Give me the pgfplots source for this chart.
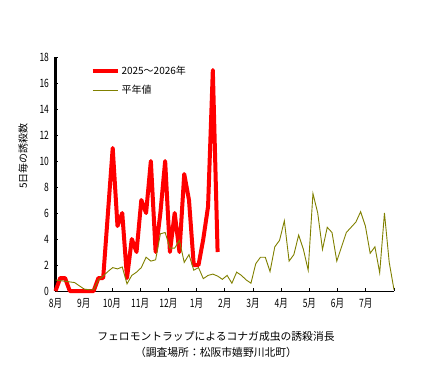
\documentclass[border=0pt]{standalone}
\usepackage{fontspec}
\setmainfont{Noto Sans CJK JP}
\newfontfamily\narrowfont[FakeStretch=0.74]{Noto Sans CJK JP}
\usepackage{pgfplots}
\pgfplotsset{compat=1.18}
\usepackage{pgfplotstable}
\definecolor{redline}{RGB}{255,0,0}
\definecolor{oliveline}{RGB}{128,128,0}
\pgfplotstableread{
x y
0 0
1 1
2 1
3 0
4 0
5 0
6 0
7 0
8 0
9 1
10 1
11 6
12 11
13 5
14 6
15 1
16 4
17 3
18 7
19 6
20 10
21 3
22 6
23 10
24 3
25 6
26 3
27 9
28 7
29 2
30 2
31 4
32 6.5
33 17
34 3
}\seasonA
\pgfplotstableread{
x y
0 0.85
1 0.8
2 0.75
3 0.7
4 0.65
5 0.4
6 0.15
7 0.1
8 0.1
9 0.85
10 1.15
11 1.5
12 1.8
13 1.7
14 1.85
15 0.55
16 1.2
17 1.45
18 1.8
19 2.6
20 2.3
21 2.4
22 4.4
23 4.5
24 3.3
25 3.3
26 3.9
27 2.2
28 2.8
29 1.6
30 1.8
31 0.95
32 1.2
33 1.3
34 1.15
35 0.9
36 1.2
37 0.6
38 1.45
39 1.2
40 0.85
41 0.6
42 2.1
43 2.6
44 2.6
45 1.5
46 3.4
47 3.9
48 5.4
49 2.3
50 2.8
51 4.3
52 3.2
53 1.6
54 7.5
55 6.0
56 3.2
57 4.9
58 4.5
59 2.3
60 3.4
61 4.5
62 4.9
63 5.3
64 6.1
65 5.0
66 2.9
67 3.4
68 1.4
69 6.0
70 2.2
71 0.1
}\normalyear
\begin{document}
\begin{tikzpicture}
\useasboundingbox (-55.5pt,-82pt) rectangle (377.5pt,291pt);
\begin{axis}[
  at={(0pt,0pt)}, anchor=south west,
  width=338.5pt, height=234pt, scale only axis,
  xmin=0, xmax=71, ymin=0, ymax=18,
  axis x line*=bottom, axis y line*=left,
  x axis line style={line width=0.8pt},
  y axis line style={line width=2.8pt},
  xtick={0,5.9167,11.8333,17.75,23.6667,29.5833,35.5,41.4167,47.3333,53.25,59.1667,65.0833,71},
  xticklabels={8月,9月,10月,11月,12月,1月,2月,3月,4月,5月,6月,7月,{}},
  ytick={0,2,4,6,8,10,12,14,16,18},
  tick align=inside,
  major tick length=3pt,
  tick style={black, line width=0.8pt},
  /pgf/number format/assume math mode=true,
  ticklabel style={font=\narrowfont\fontsize{11.5}{12}\selectfont},
  xticklabel style={yshift=-4pt},
  yticklabel style={xshift=-3pt},
  ylabel={5日毎の誘殺数},
  ylabel style={font=\fontsize{12}{13}\selectfont},
  every axis y label/.style={at={([xshift=-5pt]ticklabel cs:0.577)}, rotate=90, anchor=south},
  legend style={draw=none, fill=none, at={(rel axis cs:0.094,0.978)}, anchor=north west,
    font=\fontsize{10}{11}\selectfont, row sep=5pt, cells={anchor=west}},
  legend image code/.code={\draw[#1] (0pt,0pt) -- (25pt,0pt);},
  clip=false,
]
\addplot[redline, line width=4pt, line join=round] table[x=x,y=y] {\seasonA};
\addlegendentry{2025～2026年}
\addplot[oliveline, line width=0.9pt] table[x=x,y=y] {\normalyear};
\addlegendentry{平年値}
\end{axis}
\node[align=center, font=\fontsize{10.8}{16}\selectfont] at (160.5pt,-53pt) {フェロモントラップによるコナガ成虫の誘殺消長\\（調査場所：松阪市嬉野川北町）};
\end{tikzpicture}
\end{document}
